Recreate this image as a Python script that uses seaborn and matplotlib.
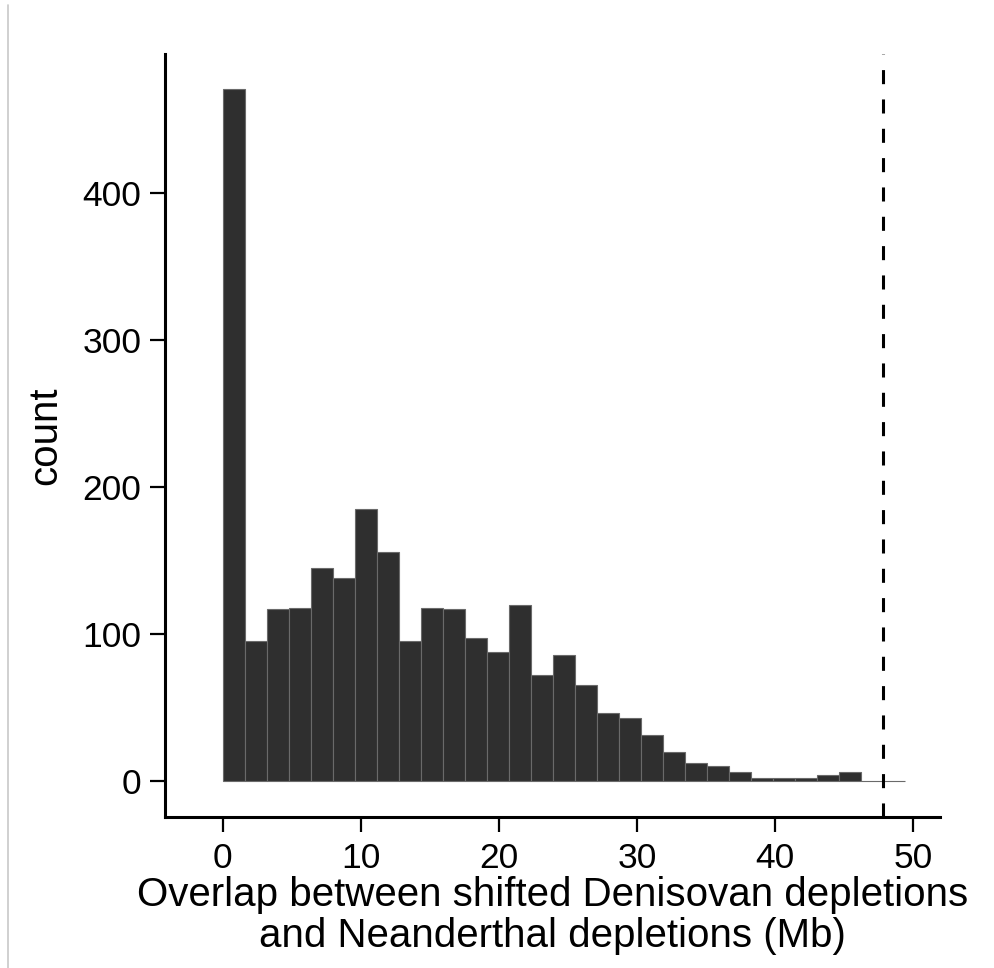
import numpy as np
import pandas as pd
import matplotlib
matplotlib.use("Agg")
import matplotlib.pyplot as plt
import seaborn as sns
from matplotlib.lines import Line2D

# ---- data ----
bin_width = 1.594
n_bins = 31
counts = [471, 95, 117, 118, 145, 138, 185, 156, 95, 118, 117, 97, 88, 120,
          72, 86, 65, 46, 43, 31, 20, 12, 10, 6, 2, 2, 2, 4, 6, 0, 0]
observed = 47.8
x_ticks = [0, 10, 20, 30, 40, 50]
y_ticks = [0, 100, 200, 300, 400]
x_label = "Overlap between shifted Denisovan depletions\nand Neanderthal depletions (Mb)"
y_label = "count"

centers = (np.arange(n_bins) + 0.5) * bin_width
df = pd.DataFrame({"overlap": centers, "count": counts})

sns.set_theme(style="ticks")
plt.rcParams["font.family"] = ["Liberation Sans", "DejaVu Sans"]

fig = plt.figure(figsize=(9.95, 9.68), dpi=100)
ax = fig.add_axes([0.1658, 0.1563, 0.7789, 0.7879])

sns.histplot(data=df, x="overlap", weights="count", binwidth=bin_width,
             binrange=(0, n_bins * bin_width), ax=ax,
             color="#2f2f2f", edgecolor="#6a6a6a", linewidth=0.8, alpha=1)

ax.axvline(observed, color="black", linestyle=(0, (4.6, 5.0)), linewidth=2.2)

ax.set_xlim(-4.18, 51.94)
ax.set_ylim(-24.3, 494.6)
ax.set_xticks(x_ticks)
ax.set_yticks(y_ticks)
ax.tick_params(axis="both", labelsize=25.5, length=11, width=1.6, color="black",
               labelcolor="black", pad=6)
ax.tick_params(axis="x", pad=7)
ax.set_xlabel(x_label, fontsize=29, color="black", labelpad=1, linespacing=1.1)
ax.set_ylabel(y_label, fontsize=29, color="black", labelpad=13)

for s in ["top", "right"]:
    ax.spines[s].set_visible(False)
for s in ["left", "bottom"]:
    ax.spines[s].set_linewidth(2.2)
    ax.spines[s].set_color("black")

fig.add_artist(Line2D([0.008, 0.008], [0.0, 0.995], color="#c8c8c8",
                      linewidth=1.2, transform=fig.transFigure))

fig.savefig("out.png", dpi=100, facecolor="white")
